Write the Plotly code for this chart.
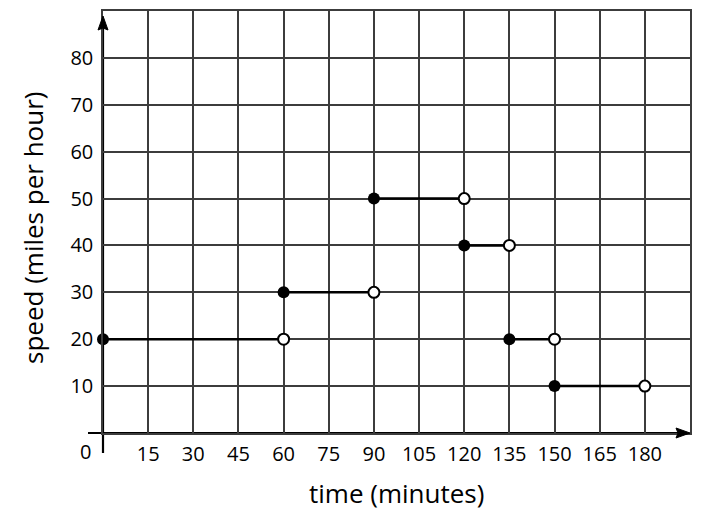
import plotly.graph_objects as go

# step segments: start (closed dot) -> end (open dot)
seg_start = [0, 60, 90, 120, 135, 150]
seg_end = [60, 90, 120, 135, 150, 180]
speed = [20, 30, 50, 40, 20, 10]

x_ticks = [15, 30, 45, 60, 75, 90, 105, 120, 135, 150, 165, 180]
y_ticks = [10, 20, 30, 40, 50, 60, 70, 80]

# page body has an 8px margin, so the figure is a bit smaller than the window
OFF = 8
W, H = 696, 504
L, R, T, B = 95, 14, 3, 79
FONT = "Open Sans"
GRID = "#3c3c3c"


def px(xp):
    # screen pixel -> paper x
    return (xp - OFF - L) / (W - L - R)


def py(yp):
    # screen pixel -> paper y
    return (H - B - (yp - OFF)) / (H - B - T)


fig = go.Figure()

# horizontal pieces
lx, ly = [], []
for a, b, s in zip(seg_start, seg_end, speed):
    lx += [a, b, None]
    ly += [s, s, None]
fig.add_trace(go.Scatter(x=lx, y=ly, mode="lines",
                         line=dict(color="black", width=2.5),
                         hoverinfo="skip", cliponaxis=False))

fig.add_trace(go.Scatter(x=seg_end, y=speed, mode="markers",
                         marker=dict(size=11, color="white",
                                     line=dict(color="black", width=2)),
                         cliponaxis=False))
fig.add_trace(go.Scatter(x=seg_start, y=speed, mode="markers",
                         marker=dict(size=12, color="black"),
                         cliponaxis=False))

# axes with arrows
shapes = [
    dict(type="line", xref="paper", yref="paper", x0=px(88), x1=px(680),
         y0=0, y1=0, line=dict(color="black", width=2.2), layer="below"),
    dict(type="line", xref="paper", yref="paper", x0=0, x1=0,
         y0=py(453), y1=py(25), line=dict(color="black", width=2.2), layer="below"),
    dict(type="path", xref="paper", yref="paper",
         path=f"M {px(690)},{py(433)} L {px(676)},{py(428)} L {px(678)},{py(433)} "
              f"L {px(676)},{py(438)} Z",
         fillcolor="black", line=dict(color="black", width=1)),
    dict(type="path", xref="paper", yref="paper",
         path=f"M {px(103)},{py(16)} L {px(98)},{py(30)} L {px(103)},{py(28)} "
              f"L {px(108)},{py(30)} Z",
         fillcolor="black", line=dict(color="black", width=1)),
]

center = dict(xref="paper", yref="paper", xanchor="center", yanchor="middle",
              showarrow=False)
annotations = [
    dict(text="0", x=px(85), y=py(451),
         font=dict(family=FONT, size=20, color="black"), **center),
    dict(text="time (minutes)", x=px(396), y=py(493),
         font=dict(family=FONT, size=26, color="black"), **center),
    dict(text="speed (miles per hour)", x=px(33), y=py(228), textangle=-90,
         font=dict(family=FONT, size=26, color="black"), **center),
]

fig.update_layout(
    width=W, height=H,
    margin=dict(l=L, r=R, t=T, b=B),
    paper_bgcolor="white", plot_bgcolor="white",
    showlegend=False,
    shapes=shapes,
    annotations=annotations,
    font=dict(family=FONT, size=20, color="black"),
    xaxis=dict(range=[0, 195], tickvals=x_ticks, showgrid=True,
               gridcolor=GRID, gridwidth=1.5, zeroline=False,
               showline=True, mirror=True, linecolor=GRID, linewidth=1.5,
               ticks="", ticklabelstandoff=2, automargin=False,
               tickfont=dict(family=FONT, size=20, color="black")),
    yaxis=dict(range=[0, 90], tickvals=y_ticks, showgrid=True,
               gridcolor=GRID, gridwidth=1.5, zeroline=False,
               showline=True, mirror=True, linecolor=GRID, linewidth=1.5,
               ticks="", ticklabelstandoff=4, automargin=False,
               tickfont=dict(family=FONT, size=20, color="black")),
)

fig.write_html("out.html")
